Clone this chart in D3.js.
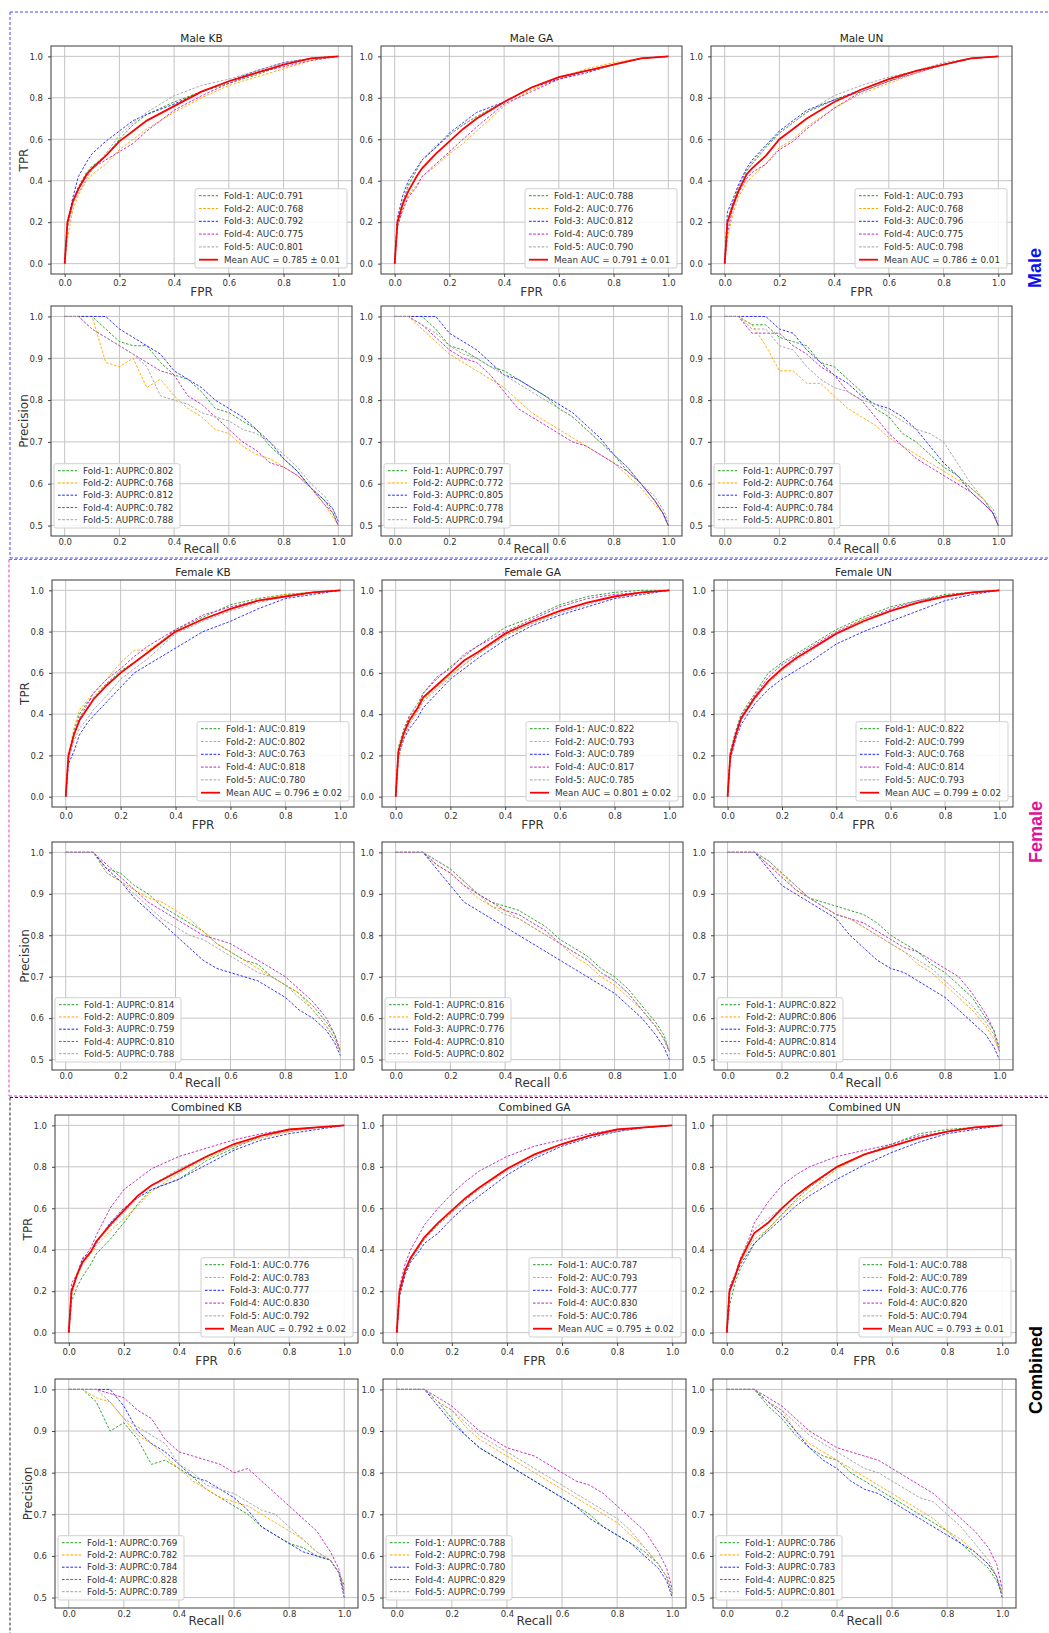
<!DOCTYPE html>
<html>
<head>
<meta charset="utf-8">
<style>
  body { margin: 0; background: #fff; }
  svg { display: block; font-family: "DejaVu Sans", sans-serif; }
</style>
</head>
<body>
<svg width="1049" height="1633"></svg>
<script src="https://d3js.org/d3.v7.min.js"></script>
<script>

  var groups = ["Male", "Female", "Combined"];
  var methods = ["KB", "GA", "UN"];
  var foldNames = ["Fold-1", "Fold-2", "Fold-3", "Fold-4", "Fold-5"];

  // x positions shared by every curve of a kind
  var fprGrid = [0, 0.01, 0.03, 0.05, 0.08, 0.1, 0.15, 0.2, 0.25, 0.3, 0.4, 0.5, 0.6, 0.7, 0.8, 0.9, 1.0];
  var recallGrid = [0, 0.05, 0.1, 0.15, 0.2, 0.25, 0.3, 0.35, 0.4, 0.45, 0.5, 0.55, 0.6, 0.65, 0.7, 0.75, 0.8, 0.85, 0.9, 0.95, 0.98, 1.0];

  // ---- ROC (TPR at fprGrid), 5 folds each ----
  var rocMaleKB = [
    [0,0.18,0.3,0.37,0.44,0.47,0.52,0.6,0.67,0.72,0.78,0.83,0.87,0.91,0.96,0.99,1],
    [0,0.12,0.26,0.33,0.4,0.43,0.48,0.55,0.6,0.65,0.73,0.8,0.86,0.9,0.94,0.98,1],
    [0,0.2,0.32,0.42,0.49,0.53,0.59,0.64,0.69,0.72,0.77,0.83,0.88,0.93,0.97,0.99,1],
    [0,0.18,0.3,0.36,0.42,0.46,0.5,0.54,0.58,0.64,0.74,0.81,0.87,0.92,0.95,0.98,1],
    [0,0.17,0.29,0.34,0.41,0.45,0.53,0.62,0.68,0.73,0.81,0.86,0.89,0.93,0.97,0.99,1]
  ];
  var rocMaleGA = [
    [0,0.2,0.3,0.38,0.45,0.5,0.56,0.62,0.67,0.71,0.78,0.85,0.9,0.93,0.96,0.99,1],
    [0,0.17,0.27,0.33,0.38,0.42,0.47,0.53,0.58,0.64,0.76,0.84,0.89,0.94,0.97,0.99,1],
    [0,0.22,0.33,0.4,0.46,0.5,0.56,0.63,0.68,0.73,0.78,0.85,0.89,0.92,0.96,0.99,1],
    [0,0.18,0.26,0.32,0.37,0.42,0.48,0.54,0.6,0.66,0.77,0.83,0.89,0.93,0.96,0.99,1],
    [0,0.2,0.3,0.37,0.45,0.5,0.57,0.62,0.67,0.71,0.78,0.85,0.9,0.93,0.96,0.99,1]
  ];
  var rocMaleUN = [
    [0,0.2,0.3,0.37,0.45,0.48,0.56,0.63,0.68,0.73,0.79,0.83,0.88,0.93,0.96,0.99,1],
    [0,0.12,0.24,0.32,0.39,0.42,0.48,0.56,0.6,0.66,0.75,0.82,0.87,0.92,0.96,0.99,1],
    [0,0.25,0.31,0.38,0.46,0.5,0.57,0.64,0.69,0.74,0.79,0.84,0.89,0.93,0.96,0.99,1],
    [0,0.15,0.27,0.34,0.41,0.44,0.48,0.55,0.59,0.65,0.75,0.83,0.88,0.92,0.96,0.99,1],
    [0,0.2,0.3,0.37,0.44,0.49,0.57,0.63,0.68,0.73,0.81,0.86,0.9,0.93,0.97,0.99,1]
  ];
  var rocFemaleKB = [
    [0,0.2,0.32,0.4,0.46,0.48,0.55,0.61,0.65,0.7,0.81,0.87,0.93,0.96,0.98,0.99,1],
    [0,0.2,0.33,0.42,0.47,0.5,0.57,0.65,0.71,0.71,0.8,0.86,0.91,0.95,0.98,0.99,1],
    [0,0.16,0.22,0.3,0.36,0.39,0.46,0.53,0.6,0.64,0.72,0.8,0.85,0.91,0.96,0.98,1],
    [0,0.2,0.3,0.38,0.45,0.5,0.57,0.62,0.68,0.73,0.81,0.88,0.92,0.95,0.97,0.99,1],
    [0,0.18,0.27,0.33,0.38,0.42,0.49,0.57,0.62,0.67,0.79,0.85,0.9,0.94,0.97,0.99,1]
  ];
  var rocFemaleGA = [
    [0,0.24,0.33,0.39,0.45,0.5,0.57,0.63,0.68,0.73,0.82,0.87,0.93,0.97,0.99,1,1],
    [0,0.18,0.29,0.36,0.42,0.47,0.53,0.59,0.64,0.69,0.78,0.84,0.9,0.94,0.97,0.99,1],
    [0,0.2,0.28,0.33,0.38,0.43,0.5,0.57,0.62,0.67,0.76,0.83,0.88,0.92,0.96,0.98,1],
    [0,0.22,0.31,0.39,0.43,0.5,0.58,0.62,0.69,0.73,0.8,0.86,0.92,0.96,0.98,0.99,1],
    [0,0.2,0.29,0.35,0.41,0.46,0.52,0.58,0.64,0.69,0.78,0.84,0.89,0.93,0.97,0.99,1]
  ];
  var rocFemaleUN = [
    [0,0.22,0.32,0.4,0.46,0.5,0.6,0.65,0.69,0.73,0.81,0.87,0.92,0.95,0.98,0.99,1],
    [0,0.2,0.3,0.38,0.44,0.48,0.56,0.62,0.67,0.71,0.79,0.86,0.9,0.94,0.97,0.99,1],
    [0,0.18,0.28,0.35,0.41,0.45,0.52,0.57,0.61,0.65,0.74,0.8,0.85,0.9,0.95,0.98,1],
    [0,0.21,0.31,0.39,0.45,0.49,0.58,0.64,0.68,0.72,0.8,0.86,0.91,0.95,0.97,0.99,1],
    [0,0.19,0.29,0.37,0.43,0.47,0.55,0.61,0.66,0.7,0.79,0.85,0.9,0.94,0.97,0.99,1]
  ];
  var rocCombinedKB = [
    [0,0.15,0.22,0.27,0.33,0.38,0.45,0.53,0.62,0.69,0.74,0.83,0.89,0.95,0.98,0.99,1],
    [0,0.18,0.27,0.33,0.38,0.42,0.49,0.55,0.61,0.68,0.77,0.84,0.9,0.94,0.97,0.99,1],
    [0,0.2,0.28,0.36,0.39,0.43,0.53,0.6,0.65,0.69,0.74,0.81,0.88,0.93,0.96,0.98,1],
    [0,0.24,0.28,0.35,0.41,0.47,0.6,0.69,0.74,0.79,0.85,0.89,0.93,0.96,0.98,0.99,1],
    [0,0.19,0.28,0.34,0.39,0.44,0.51,0.58,0.65,0.71,0.79,0.85,0.9,0.95,0.97,0.99,1]
  ];
  var rocCombinedGA = [
    [0,0.18,0.28,0.35,0.41,0.45,0.52,0.58,0.64,0.7,0.79,0.86,0.91,0.95,0.98,0.99,1],
    [0,0.2,0.3,0.36,0.42,0.46,0.53,0.59,0.65,0.7,0.79,0.86,0.91,0.95,0.98,0.99,1],
    [0,0.18,0.28,0.34,0.39,0.43,0.48,0.55,0.61,0.66,0.76,0.84,0.9,0.94,0.97,0.99,1],
    [0,0.22,0.33,0.4,0.47,0.52,0.6,0.67,0.73,0.78,0.85,0.9,0.93,0.96,0.98,0.99,1],
    [0,0.19,0.29,0.35,0.41,0.45,0.52,0.58,0.64,0.69,0.78,0.85,0.91,0.95,0.97,0.99,1]
  ];
  var rocCombinedUN = [
    [0,0.13,0.24,0.31,0.38,0.43,0.5,0.57,0.64,0.7,0.8,0.86,0.91,0.96,0.98,0.99,1],
    [0,0.22,0.28,0.34,0.41,0.45,0.5,0.57,0.63,0.68,0.79,0.86,0.9,0.94,0.97,0.99,1],
    [0,0.2,0.27,0.33,0.39,0.43,0.49,0.55,0.61,0.66,0.74,0.81,0.87,0.92,0.96,0.98,1],
    [0,0.22,0.28,0.36,0.45,0.53,0.63,0.71,0.76,0.8,0.85,0.88,0.91,0.95,0.97,0.99,1],
    [0,0.2,0.28,0.36,0.45,0.5,0.55,0.6,0.66,0.7,0.8,0.86,0.9,0.94,0.97,0.99,1]
  ];

  // mean ROC curves
  var rocMeanMale = [
    [0,0.2,0.3,0.36,0.43,0.46,0.52,0.59,0.64,0.69,0.76,0.83,0.88,0.92,0.96,0.99,1],
    [0,0.2,0.29,0.35,0.42,0.46,0.53,0.59,0.65,0.7,0.78,0.85,0.9,0.93,0.96,0.99,1],
    [0,0.2,0.28,0.35,0.43,0.46,0.52,0.6,0.65,0.7,0.78,0.84,0.89,0.93,0.96,0.99,1]
  ];
  var rocMeanFemale = [
    [0,0.2,0.3,0.37,0.43,0.47,0.54,0.6,0.65,0.7,0.8,0.86,0.91,0.95,0.97,0.99,1],
    [0,0.22,0.31,0.37,0.43,0.48,0.54,0.6,0.66,0.7,0.79,0.85,0.9,0.94,0.97,0.99,1],
    [0,0.2,0.3,0.38,0.44,0.48,0.56,0.62,0.67,0.71,0.79,0.85,0.9,0.94,0.97,0.99,1]
  ];
  var rocMeanCombined = [
    [0,0.2,0.28,0.34,0.39,0.44,0.52,0.59,0.66,0.71,0.78,0.85,0.91,0.95,0.98,0.99,1],
    [0,0.2,0.3,0.36,0.42,0.46,0.53,0.59,0.65,0.7,0.79,0.86,0.91,0.95,0.98,0.99,1],
    [0,0.2,0.27,0.35,0.43,0.48,0.53,0.6,0.66,0.71,0.8,0.86,0.9,0.94,0.97,0.99,1]
  ];

  // ---- PR (precision at recallGrid), 5 folds each ----
  var prMaleKB = [
    [1,1,1,0.97,0.94,0.93,0.93,0.89,0.86,0.85,0.82,0.78,0.77,0.75,0.73,0.69,0.66,0.63,0.59,0.56,0.53,0.5],
    [1,1,1,0.89,0.88,0.9,0.83,0.85,0.81,0.78,0.76,0.73,0.72,0.69,0.67,0.66,0.64,0.62,0.59,0.55,0.52,0.5],
    [1,1,1,1,0.97,0.95,0.93,0.91,0.87,0.85,0.83,0.8,0.78,0.76,0.73,0.7,0.66,0.63,0.59,0.56,0.54,0.51],
    [1,1,0.97,0.95,0.93,0.91,0.89,0.87,0.86,0.81,0.79,0.76,0.73,0.7,0.68,0.65,0.64,0.62,0.59,0.55,0.53,0.5],
    [1,1,0.97,0.95,0.93,0.91,0.88,0.81,0.8,0.79,0.77,0.76,0.75,0.73,0.72,0.7,0.67,0.64,0.6,0.57,0.54,0.51]
  ];
  var prMaleGA = [
    [1,1,1,0.97,0.93,0.92,0.9,0.88,0.87,0.85,0.83,0.81,0.78,0.76,0.73,0.7,0.67,0.63,0.6,0.56,0.53,0.5],
    [1,1,0.97,0.94,0.91,0.89,0.87,0.85,0.83,0.8,0.77,0.75,0.73,0.71,0.69,0.67,0.65,0.62,0.59,0.55,0.53,0.5],
    [1,1,1,1,0.96,0.94,0.92,0.89,0.86,0.85,0.83,0.81,0.79,0.77,0.74,0.71,0.67,0.64,0.6,0.56,0.53,0.5],
    [1,1,0.98,0.95,0.92,0.9,0.89,0.86,0.82,0.78,0.76,0.74,0.72,0.7,0.69,0.67,0.65,0.63,0.6,0.56,0.53,0.5],
    [1,1,0.98,0.96,0.93,0.91,0.9,0.88,0.86,0.84,0.82,0.8,0.78,0.76,0.73,0.7,0.67,0.64,0.6,0.57,0.54,0.51]
  ];
  var prMaleUN = [
    [1,1,0.98,0.98,0.95,0.94,0.93,0.89,0.88,0.85,0.82,0.78,0.76,0.72,0.7,0.67,0.64,0.62,0.59,0.56,0.53,0.5],
    [1,1,0.98,0.93,0.87,0.87,0.84,0.84,0.81,0.78,0.76,0.74,0.71,0.69,0.67,0.65,0.63,0.61,0.59,0.56,0.53,0.5],
    [1,1,1,1,0.97,0.96,0.92,0.89,0.86,0.84,0.81,0.79,0.78,0.76,0.73,0.69,0.65,0.62,0.58,0.55,0.53,0.5],
    [1,1,0.96,0.96,0.96,0.93,0.91,0.88,0.86,0.82,0.8,0.76,0.72,0.69,0.66,0.64,0.62,0.6,0.58,0.55,0.53,0.5],
    [1,1,0.97,0.97,0.93,0.92,0.88,0.85,0.83,0.82,0.8,0.79,0.77,0.75,0.73,0.72,0.7,0.65,0.6,0.56,0.54,0.51]
  ];
  var prFemaleKB = [
    [1,1,1,0.96,0.95,0.92,0.9,0.87,0.85,0.83,0.81,0.78,0.76,0.74,0.73,0.7,0.68,0.66,0.63,0.59,0.56,0.52],
    [1,1,1,0.95,0.93,0.91,0.89,0.88,0.86,0.84,0.81,0.78,0.76,0.74,0.72,0.7,0.68,0.66,0.62,0.58,0.55,0.52],
    [1,1,1,0.96,0.93,0.89,0.86,0.83,0.8,0.77,0.74,0.72,0.71,0.7,0.69,0.67,0.65,0.62,0.6,0.57,0.54,0.51],
    [1,1,1,0.97,0.94,0.91,0.88,0.86,0.84,0.82,0.8,0.79,0.78,0.76,0.74,0.72,0.7,0.67,0.64,0.6,0.56,0.52],
    [1,1,1,0.95,0.93,0.9,0.87,0.84,0.82,0.8,0.79,0.77,0.75,0.73,0.71,0.7,0.68,0.65,0.62,0.58,0.55,0.52]
  ];
  var prFemaleGA = [
    [1,1,1,0.98,0.96,0.93,0.9,0.88,0.87,0.86,0.84,0.82,0.79,0.77,0.75,0.72,0.7,0.67,0.63,0.59,0.56,0.52],
    [1,1,1,0.97,0.95,0.92,0.89,0.87,0.86,0.84,0.82,0.8,0.78,0.75,0.73,0.7,0.68,0.65,0.62,0.58,0.55,0.52],
    [1,1,1,0.96,0.92,0.88,0.86,0.84,0.82,0.8,0.78,0.76,0.74,0.72,0.7,0.68,0.66,0.63,0.6,0.56,0.53,0.5],
    [1,1,1,0.97,0.95,0.92,0.9,0.88,0.86,0.85,0.83,0.81,0.78,0.76,0.74,0.71,0.69,0.66,0.62,0.58,0.55,0.52],
    [1,1,1,0.98,0.96,0.93,0.9,0.87,0.85,0.84,0.82,0.8,0.78,0.76,0.74,0.71,0.69,0.66,0.62,0.58,0.55,0.52]
  ];
  var prFemaleUN = [
    [1,1,1,0.98,0.95,0.92,0.89,0.88,0.87,0.86,0.85,0.83,0.8,0.78,0.76,0.73,0.71,0.68,0.65,0.6,0.57,0.53],
    [1,1,1,0.97,0.95,0.91,0.89,0.87,0.85,0.84,0.82,0.8,0.78,0.76,0.73,0.71,0.68,0.65,0.62,0.58,0.55,0.52],
    [1,1,1,0.96,0.92,0.9,0.88,0.86,0.84,0.8,0.77,0.74,0.72,0.71,0.69,0.67,0.65,0.62,0.59,0.56,0.53,0.5],
    [1,1,1,0.97,0.94,0.91,0.89,0.87,0.85,0.84,0.83,0.81,0.79,0.77,0.76,0.74,0.72,0.7,0.66,0.61,0.57,0.52],
    [1,1,1,0.98,0.95,0.92,0.89,0.87,0.85,0.84,0.82,0.8,0.78,0.76,0.74,0.72,0.69,0.66,0.63,0.59,0.56,0.52]
  ];
  var prCombinedKB = [
    [1,1,0.97,0.9,0.92,0.88,0.82,0.83,0.81,0.79,0.76,0.74,0.72,0.7,0.67,0.65,0.63,0.62,0.6,0.59,0.56,0.53],
    [1,1,0.98,0.97,0.93,0.89,0.87,0.84,0.81,0.78,0.76,0.74,0.73,0.72,0.7,0.68,0.66,0.64,0.61,0.59,0.56,0.52],
    [1,1,1,1,0.96,0.9,0.87,0.85,0.82,0.79,0.78,0.76,0.74,0.71,0.67,0.65,0.63,0.61,0.6,0.59,0.56,0.5],
    [1,1,1,0.99,0.98,0.95,0.93,0.88,0.85,0.84,0.83,0.82,0.8,0.81,0.78,0.75,0.72,0.69,0.66,0.61,0.57,0.51],
    [1,1,1,0.97,0.93,0.91,0.89,0.87,0.82,0.8,0.77,0.76,0.75,0.73,0.71,0.7,0.67,0.64,0.61,0.59,0.56,0.52]
  ];
  var prCombinedGA = [
    [1,1,1,0.97,0.93,0.89,0.86,0.84,0.82,0.8,0.78,0.76,0.74,0.72,0.7,0.67,0.65,0.63,0.61,0.58,0.55,0.51],
    [1,1,1,0.97,0.95,0.91,0.88,0.86,0.84,0.82,0.8,0.78,0.76,0.74,0.72,0.7,0.68,0.65,0.62,0.58,0.55,0.51],
    [1,1,1,0.96,0.92,0.89,0.86,0.84,0.82,0.8,0.78,0.76,0.74,0.72,0.69,0.67,0.65,0.63,0.6,0.57,0.54,0.5],
    [1,1,1,0.98,0.96,0.93,0.9,0.88,0.86,0.85,0.84,0.82,0.8,0.78,0.77,0.75,0.72,0.69,0.66,0.61,0.57,0.52],
    [1,1,1,0.97,0.95,0.92,0.89,0.87,0.85,0.83,0.81,0.79,0.77,0.75,0.73,0.71,0.69,0.66,0.62,0.58,0.55,0.51]
  ];
  var prCombinedUN = [
    [1,1,1,0.96,0.93,0.89,0.86,0.84,0.83,0.8,0.78,0.76,0.74,0.72,0.7,0.68,0.66,0.63,0.6,0.57,0.54,0.51],
    [1,1,1,0.97,0.95,0.9,0.87,0.85,0.83,0.81,0.79,0.77,0.75,0.73,0.71,0.69,0.66,0.64,0.61,0.58,0.55,0.51],
    [1,1,1,0.97,0.94,0.9,0.86,0.83,0.81,0.78,0.76,0.75,0.73,0.71,0.69,0.67,0.65,0.63,0.61,0.58,0.55,0.5],
    [1,1,1,0.98,0.96,0.93,0.9,0.88,0.86,0.85,0.84,0.83,0.81,0.79,0.77,0.75,0.72,0.69,0.66,0.62,0.58,0.52],
    [1,1,1,0.97,0.95,0.92,0.89,0.87,0.85,0.83,0.81,0.8,0.78,0.76,0.74,0.73,0.7,0.67,0.63,0.59,0.55,0.51]
  ];

  // ---- legend numbers ----
  var aucMale = [[0.791,0.768,0.792,0.775,0.801],[0.788,0.776,0.812,0.789,0.790],[0.793,0.768,0.796,0.775,0.798]];
  var aucFemale = [[0.819,0.802,0.763,0.818,0.780],[0.822,0.793,0.789,0.817,0.785],[0.822,0.799,0.768,0.814,0.793]];
  var aucCombined = [[0.776,0.783,0.777,0.830,0.792],[0.787,0.793,0.777,0.830,0.786],[0.788,0.789,0.776,0.820,0.794]];
  var meanAucMale = [0.785, 0.791, 0.786];
  var meanAucFemale = [0.796, 0.801, 0.799];
  var meanAucCombined = [0.792, 0.795, 0.793];
  var stdAucMale = [0.01, 0.01, 0.01];
  var stdAucFemale = [0.02, 0.02, 0.02];
  var stdAucCombined = [0.02, 0.02, 0.01];
  var auprcMale = [[0.802,0.768,0.812,0.782,0.788],[0.797,0.772,0.805,0.778,0.794],[0.797,0.764,0.807,0.784,0.801]];
  var auprcFemale = [[0.814,0.809,0.759,0.810,0.788],[0.816,0.799,0.776,0.810,0.802],[0.822,0.806,0.775,0.814,0.801]];
  var auprcCombined = [[0.769,0.782,0.784,0.828,0.789],[0.788,0.798,0.780,0.829,0.799],[0.786,0.791,0.783,0.825,0.801]];

  var foldColors = ["#1f9e1f", "#ffa500", "#2020ff", "#c020c0", "#a0a0a0"];
  var groupColors = {Male: "#1010ee", Female: "#e0109a", Combined: "#000000"};

  var data = {
    Male: {roc: [rocMaleKB, rocMaleGA, rocMaleUN], mean: rocMeanMale, pr: [prMaleKB, prMaleGA, prMaleUN],
           auc: aucMale, meanAuc: meanAucMale, std: stdAucMale, auprc: auprcMale},
    Female: {roc: [rocFemaleKB, rocFemaleGA, rocFemaleUN], mean: rocMeanFemale, pr: [prFemaleKB, prFemaleGA, prFemaleUN],
           auc: aucFemale, meanAuc: meanAucFemale, std: stdAucFemale, auprc: auprcFemale},
    Combined: {roc: [rocCombinedKB, rocCombinedGA, rocCombinedUN], mean: rocMeanCombined, pr: [prCombinedKB, prCombinedGA, prCombinedUN],
           auc: aucCombined, meanAuc: meanAucCombined, std: stdAucCombined, auprc: auprcCombined}
  };

  // panel boxes in page pixels
  var layout = {
    Male: {roc: [46, 274], pr: [306, 536], cols: [[51, 352], [381, 682], [711, 1012]], label: [1035, 268]},
    Female: {roc: [580, 807], pr: [842, 1070], cols: [[52, 354], [382, 683], [714, 1013]], label: [1036, 832]},
    Combined: {roc: [1115, 1343], pr: [1379, 1608], cols: [[55, 358], [383, 686], [713, 1016]], label: [1036, 1370]}
  };

  var svg = d3.select("svg");
  var fmt3 = d3.format(".3f");

  function panel(kind, box, title, series, meanSeries, labels, showYLabel) {
    var g = svg.append("g");
    var x = d3.scaleLinear().domain([-0.05, 1.05]).range([box.l, box.r]);
    var y = kind === "roc"
      ? d3.scaleLinear().domain([-0.05, 1.05]).range([box.b, box.t])
      : d3.scaleLinear().domain([0.475, 1.025]).range([box.b, box.t]);
    var xt = [0, 0.2, 0.4, 0.6, 0.8, 1.0];
    var yt = kind === "roc" ? xt : [0.5, 0.6, 0.7, 0.8, 0.9, 1.0];
    var grid = kind === "roc" ? fprGrid : recallGrid;

    g.append("rect").attr("x", box.l).attr("y", box.t)
      .attr("width", box.r - box.l).attr("height", box.b - box.t).attr("fill", "#fff");

    g.selectAll(".gx").data(xt).join("line")
      .attr("x1", x).attr("x2", x).attr("y1", box.t).attr("y2", box.b)
      .attr("stroke", "#c4c4c4").attr("stroke-width", 1);
    g.selectAll(".gy").data(yt).join("line")
      .attr("y1", y).attr("y2", y).attr("x1", box.l).attr("x2", box.r)
      .attr("stroke", "#c4c4c4").attr("stroke-width", 1);

    var ax = g.append("g").attr("transform", "translate(0," + box.b + ")")
      .call(d3.axisBottom(x).tickValues(xt).tickFormat(d3.format(".1f"))
        .tickSize(kind === "roc" ? 3 : 0).tickPadding(kind === "roc" ? 3 : 2.5));
    var ay = g.append("g").attr("transform", "translate(" + box.l + ",0)")
      .call(d3.axisLeft(y).tickValues(yt).tickFormat(d3.format(".1f")).tickSize(3).tickPadding(5));
    [ax, ay].forEach(function (a) {
      a.select(".domain").remove();
      a.selectAll("line").attr("stroke", "#444");
      a.selectAll("text").attr("fill", "#333").style("font-size", "8.5px")
        .style("font-family", "'DejaVu Sans', sans-serif");
    });

    var line = d3.line()
      .x(function (d, i) { return x(grid[i]); })
      .y(function (d) { return y(d); });

    series.forEach(function (s, i) {
      g.append("path").attr("d", line(s)).attr("fill", "none")
        .attr("stroke", foldColors[i]).attr("stroke-width", 1)
        .attr("stroke-dasharray", "2.6,1.6").attr("opacity", 0.9);
    });
    if (meanSeries) {
      g.append("path").attr("d", line(meanSeries)).attr("fill", "none")
        .attr("stroke", "#ff0000").attr("stroke-width", 1.8);
    }

    g.append("rect").attr("x", box.l).attr("y", box.t)
      .attr("width", box.r - box.l).attr("height", box.b - box.t)
      .attr("fill", "none").attr("stroke", "#3a3a3a").attr("stroke-width", 1);

    if (title) {
      g.append("text").attr("x", (box.l + box.r) / 2).attr("y", box.t - 4.5)
        .attr("text-anchor", "middle").attr("fill", "#222").style("font-size", "10.5px").text(title);
    }

    var xLab = kind === "roc" ? "FPR" : "Recall";
    var yLab = kind === "roc" ? "TPR" : "Precision";
    g.append("text").attr("x", (box.l + box.r) / 2)
      .attr("y", box.b + (kind === "roc" ? 22 : 16.5))
      .attr("text-anchor", "middle").attr("fill", "#333").style("font-size", "12px").text(xLab);
    if (showYLabel) {
      g.append("text").attr("transform", "translate(" + (box.l - 23) + "," + ((box.t + box.b) / 2) + ") rotate(-90)")
        .attr("text-anchor", "middle").attr("fill", "#333").style("font-size", "12px").text(yLab);
    }

    // legend
    var rowH = kind === "roc" ? 12.8 : 12.25;
    var n = labels.length;
    var w = kind === "roc" ? 152 : 126;
    var h = 7 + (n - 1) * rowH + 8.3;
    var lx = kind === "roc" ? box.r - 5 - w : box.l + 3;
    var ly = box.b - (kind === "roc" ? 6 : 8) - h;
    var lg = g.append("g").attr("transform", "translate(" + lx + "," + ly + ")");
    lg.append("rect").attr("width", w).attr("height", h).attr("rx", 2)
      .attr("fill", "#fff").attr("fill-opacity", 0.85).attr("stroke", "#d0d0d0");
    labels.forEach(function (t, i) {
      var cy = 7 + i * rowH;
      var isMean = i === 5;
      lg.append("line").attr("x1", 4).attr("x2", 23).attr("y1", cy).attr("y2", cy)
        .attr("stroke", isMean ? "#ff0000" : foldColors[i])
        .attr("stroke-width", isMean ? 1.8 : 1)
        .attr("stroke-dasharray", isMean ? null : "2.6,1.6");
      lg.append("text").attr("x", 29).attr("y", cy + 3.1).attr("fill", "#333")
        .style("font-size", "8.8px").text(t);
    });
  }

  groups.forEach(function (grp) {
    var L = layout[grp], D = data[grp];
    methods.forEach(function (m, j) {
      var c = L.cols[j];
      var rocLabels = foldNames.map(function (f, i) { return f + ": AUC:" + fmt3(D.auc[j][i]); });
      rocLabels.push("Mean AUC = " + fmt3(D.meanAuc[j]) + " \u00b1 " + D.std[j].toFixed(2));
      panel("roc", {l: c[0], r: c[1], t: L.roc[0], b: L.roc[1]}, grp + " " + m,
        D.roc[j], D.mean[j], rocLabels, j === 0);
      var prLabels = foldNames.map(function (f, i) { return f + ": AUPRC:" + fmt3(D.auprc[j][i]); });
      panel("pr", {l: c[0], r: c[1], t: L.pr[0], b: L.pr[1]}, null,
        D.pr[j], null, prLabels, j === 0);
    });
    svg.append("text")
      .attr("transform", "translate(" + L.label[0] + "," + L.label[1] + ") rotate(-90)")
      .attr("text-anchor", "middle").attr("dy", "0.35em")
      .attr("fill", groupColors[grp]).style("font-weight", "bold")
      .style("font-family", "'Liberation Sans', Arial, sans-serif")
      .style("font-size", "18px").text(grp);
  });

  // dashed group frames
  function dashed(x1, y1, x2, y2, color) {
    svg.append("line").attr("x1", x1).attr("y1", y1).attr("x2", x2).attr("y2", y2)
      .attr("stroke", color).attr("stroke-width", 1).attr("stroke-dasharray", "3,2");
  }
  dashed(10, 12, 1049, 12, "#4848ff");
  dashed(10, 12, 10, 558, "#4848ff");
  dashed(10, 558, 1049, 558, "#4848ff");
  dashed(9, 559.5, 1049, 559.5, "#e040c0");
  dashed(9, 559.5, 9, 1096, "#e040c0");
  dashed(9, 1096, 1049, 1096, "#e040c0");
  dashed(10, 1097.5, 1049, 1097.5, "#222");
  dashed(10, 1097.5, 10, 1633, "#222");

</script>
</body>
</html>
